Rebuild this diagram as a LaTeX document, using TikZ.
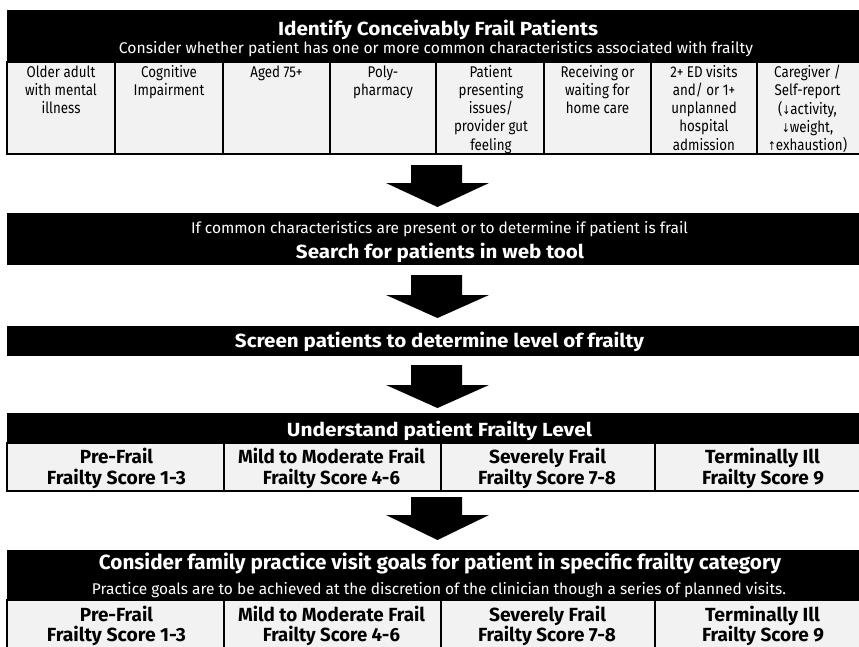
\documentclass[tikz,border=0pt]{standalone}
\usepackage{fontspec}
\usepackage{graphicx}
\setmainfont{Fira Sans}[FakeStretch=0.86]
\newfontfamily\arrfont{DejaVu Sans}[FakeStretch=0.8]
\newcommand\fw[2]{\resizebox{#1}{\height}{#2}}
\newcommand\dn{{\arrfont\fontsize{12}{12}\selectfont ↓}}
\newcommand\up{{\arrfont\fontsize{12}{12}\selectfont ↑}}
\definecolor{cellgray}{HTML}{F2F2F2}
\tikzset{
  hdr/.style={fill=black, draw=none, inner sep=0, outer sep=0, anchor=north west, minimum width=863pt},
  cellbox/.style={fill=cellgray, draw=black, line width=2pt, inner sep=0, outer sep=0, anchor=north west},
  wtitle/.style={text=white, inner sep=0, anchor=base, font=\fontsize{19}{22}\selectfont\bfseries},
  wsub/.style={text=white, inner sep=0, anchor=base, font=\fontsize{15.5}{18}\selectfont},
  btitle/.style={text=black, inner sep=0, anchor=base, font=\fontsize{19}{22}\selectfont\bfseries},
  ctext/.style={text=black, inner sep=0, anchor=base, font=\fontsize{15.5}{18.2}\selectfont},
  blockarrow/.style={fill=black, draw=none}
}
\newcommand\ct[1]{\begin{tabular}[t]{@{}c@{}}#1\end{tabular}}
\begin{document}
\begin{tikzpicture}[x=1pt,y=-1pt]
\useasboundingbox (0,0) rectangle (859,646);
\clip (0,0) rectangle (859,646);

% ---------- Box 1 ----------
\node[hdr, minimum height=52pt] (h1) at (7,10) {};
\node[wtitle] (h1t) at (438,35) {\fw{320pt}{Identify Conceivably Frail Patients}};
\node[wsub] (h1s) at (436,53) {\fw{634pt}{Consider whether patient has one or more common characteristics associated with frailty}};
\node[cellbox, minimum width=108pt, minimum height=92pt] (c1) at (7,62) {};
\node[cellbox, minimum width=108pt, minimum height=92pt] (c2) at (115,62) {};
\node[cellbox, minimum width=107pt, minimum height=92pt] (c3) at (223,62) {};
\node[cellbox, minimum width=106pt, minimum height=92pt] (c4) at (330,62) {};
\node[cellbox, minimum width=108pt, minimum height=92pt] (c5) at (436,62) {};
\node[cellbox, minimum width=107pt, minimum height=92pt] (c6) at (544,62) {};
\node[cellbox, minimum width=106pt, minimum height=92pt] (c7) at (651,62) {};
\node[cellbox, minimum width=113pt, minimum height=92pt] (c8) at (757,62) {};
\node[ctext] (t1) at (61,77.3) {\ct{Older adult\\with mental\\illness}};
\node[ctext] (t2) at (169,77.3) {\ct{Cognitive\\Impairment}};
\node[ctext] (t3) at (276.5,77.3) {\ct{Aged 75+}};
\node[ctext] (t4) at (383,77.3) {\ct{Poly-\\pharmacy}};
\node[ctext] (t5) at (491,77.3) {\ct{Patient\\presenting\\issues/\\provider gut\\feeling}};
\node[ctext] (t6) at (597.5,77.3) {\ct{Receiving or\\waiting for\\home care}};
\node[ctext] (t7) at (704,77.3) {\ct{2+ ED visits\\and/ or 1+\\unplanned\\hospital\\admission}};
\node[ctext] (t8) at (807.5,77.3) {\ct{Caregiver /\\Self-report\\(\dn activity,\\\dn weight,\\\up exhaustion)}};

% ---------- Arrow 1 ----------
\fill[blockarrow] (411,165) -- (462,165) -- (462,183) -- (489,183) -- (437.5,207) -- (386,183) -- (411,183) -- cycle;

% ---------- Box 2 ----------
\node[hdr, minimum height=52pt] (h2) at (7,213) {};
\node[wsub] (h2s) at (439.5,233) {\fw{497pt}{If common characteristics are present or to determine if patient is frail}};
\node[wtitle] (h2t) at (440,258) {\fw{288pt}{Search for patients in web tool}};

% ---------- Arrow 2 ----------
\fill[blockarrow] (411,275) -- (462,275) -- (462,295) -- (489,295) -- (437.5,318) -- (386,295) -- (411,295) -- cycle;

% ---------- Box 3 ----------
\node[hdr, minimum height=30pt] (h3) at (7,326) {};
\node[wtitle] (h3t) at (439.5,347.5) {\fw{409pt}{Screen patients to determine level of frailty}};

% ---------- Arrow 3 ----------
\fill[blockarrow] (411,365) -- (462,365) -- (462,385) -- (489,385) -- (437.5,408) -- (386,385) -- (411,385) -- cycle;

% ---------- Box 4 ----------
\node[hdr, minimum height=30pt] (h4) at (7,413) {};
\node[wtitle] (h4t) at (439.5,436) {\fw{305pt}{Understand patient Frailty Level}};
\node[cellbox, minimum width=217pt, minimum height=48pt] (d1) at (7,443) {};
\node[cellbox, minimum width=216.5pt, minimum height=48pt] (d2) at (224,443) {};
\node[cellbox, minimum width=214.5pt, minimum height=48pt] (d3) at (440.5,443) {};
\node[cellbox, minimum width=215pt, minimum height=48pt] (d4) at (655,443) {};
\node[btitle] (d1a) at (116.5,463.3) {\fw{73pt}{Pre-Frail}};
\node[btitle] (d1b) at (116.5,484.5) {\fw{139pt}{Frailty Score 1-3}};
\node[btitle] (d2a) at (331.5,463.3) {\fw{187pt}{Mild to Moderate Frail}};
\node[btitle] (d2b) at (331.5,484.5) {\fw{137pt}{Frailty Score 4-6}};
\node[btitle] (d3a) at (547.5,463.3) {\fw{117pt}{Severely Frail}};
\node[btitle] (d3b) at (547,484.5) {\fw{138pt}{Frailty Score 7-8}};
\node[btitle] (d4a) at (762.5,463.3) {\fw{115pt}{Terminally Ill}};
\node[btitle] (d4b) at (763,484.5) {\fw{122pt}{Frailty Score 9}};

% ---------- Arrow 4 ----------
\fill[blockarrow] (411,497) -- (462,497) -- (462,515) -- (489,515) -- (437.5,540) -- (386,515) -- (411,515) -- cycle;

% ---------- Box 5 ----------
\node[hdr, minimum height=50pt] (h5) at (7,550) {};
\node[wtitle, font=\fontsize{20.5}{24}\selectfont\bfseries] (h5t) at (440,569.5) {\fw{682pt}{Consider family practice visit goals for patient in specific frailty category}};
\node[wsub] (h5s) at (439,594) {\fw{694pt}{Practice goals are to be achieved at the discretion of the clinician though a series of planned visits.}};
\node[cellbox, minimum width=217pt, minimum height=60pt] (e1) at (7,600) {};
\node[cellbox, minimum width=216.5pt, minimum height=60pt] (e2) at (224,600) {};
\node[cellbox, minimum width=214.5pt, minimum height=60pt] (e3) at (440.5,600) {};
\node[cellbox, minimum width=215pt, minimum height=60pt] (e4) at (655,600) {};
\node[btitle] (e1a) at (116.5,621.7) {\fw{73pt}{Pre-Frail}};
\node[btitle] (e1b) at (116.5,641.7) {\fw{139pt}{Frailty Score 1-3}};
\node[btitle] (e2a) at (331.5,621.7) {\fw{187pt}{Mild to Moderate Frail}};
\node[btitle] (e2b) at (331.5,641.7) {\fw{137pt}{Frailty Score 4-6}};
\node[btitle] (e3a) at (547.5,621.7) {\fw{117pt}{Severely Frail}};
\node[btitle] (e3b) at (547,641.7) {\fw{138pt}{Frailty Score 7-8}};
\node[btitle] (e4a) at (762.5,621.7) {\fw{115pt}{Terminally Ill}};
\node[btitle] (e4b) at (763,641.7) {\fw{122pt}{Frailty Score 9}};
\end{tikzpicture}
\end{document}
